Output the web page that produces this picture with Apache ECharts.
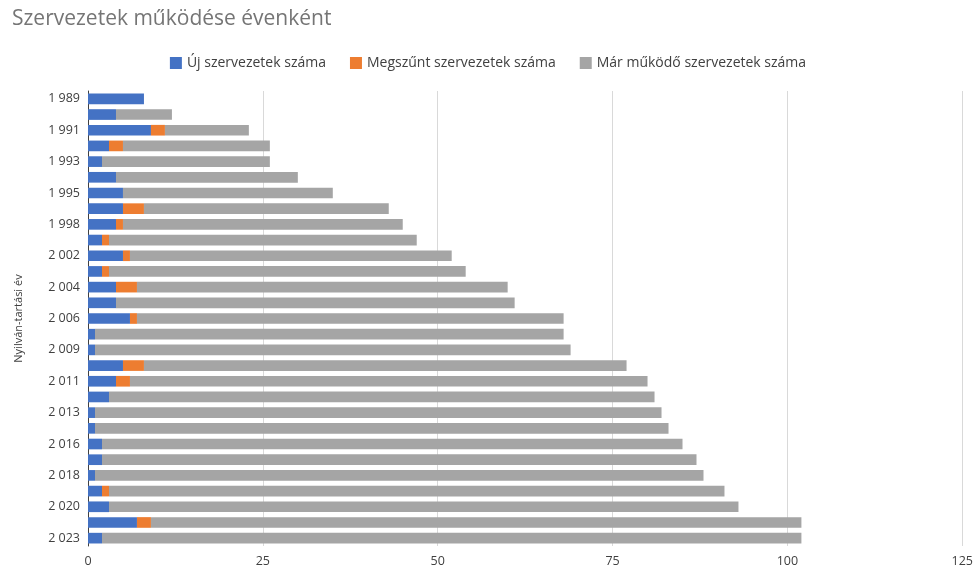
<!DOCTYPE html>
<html>
<head>
<meta charset="utf-8">
<script src="https://cdn.jsdelivr.net/npm/echarts@6/dist/echarts.min.js"></script>
<style>
  html, body { margin: 0; padding: 0; background: #fff; }
  #main { width: 976px; height: 571px; }
</style>
</head>
<body>
<div id="main"></div>
<script>
var years = ['1 989', '1 990', '1 991', '1 992', '1 993', '1 994', '1 995', '1 997', '1 998', '2 000',
    '2 002', '2 003', '2 004', '2 005', '2 006', '2 008', '2 009', '2 010', '2 011', '2 012',
    '2 013', '2 015', '2 016', '2 017', '2 018', '2 019', '2 020', '2 022', '2 023'];
var ujSzervezetek = [8, 4, 9, 3, 2, 4, 5, 5, 4, 2, 5, 2, 4, 4, 6, 1, 1, 5, 4, 3, 1, 1, 2, 2, 1, 2, 3, 7, 2];
var megszunt = [0, 0, 2, 2, 0, 0, 0, 3, 1, 1, 1, 1, 3, 0, 1, 0, 0, 3, 2, 0, 0, 0, 0, 0, 0, 1, 0, 2, 0];
var marMukodo = [0, 8, 12, 21, 24, 26, 30, 35, 40, 44, 46, 51, 53, 57, 61, 67, 68, 69, 74, 78, 81, 82, 83, 85, 87, 88, 90, 93, 100];
var xTicks = [0, 25, 50, 75, 100, 125];

var myChart = echarts.init(document.getElementById('main'));
var font = 'Open Sans';

var option = {
    animation: false,
    title: {
        text: 'Szervezetek működése évenként',
        left: 7,
        top: 4,
        textStyle: { fontFamily: font, fontSize: 21, fontWeight: 'normal', color: '#757575' }
    },
    legend: {
        top: 51,
        left: 'center',
        itemWidth: 12,
        itemHeight: 12,
        itemGap: 24,
        icon: 'rect',
        textStyle: { fontFamily: font, fontSize: 14, color: '#404040' },
        data: ['Új szervezetek száma', 'Megszűnt szervezetek száma', 'Már működő szervezetek száma']
    },
    grid: { left: 88, right: 12, top: 91, bottom: 25 },
    xAxis: {
        type: 'value',
        min: 0,
        max: 125,
        interval: 25,
        axisLine: { show: false },
        axisTick: { show: false },
        axisLabel: {
            fontFamily: font, fontSize: 12.5, color: '#404040', margin: 9,
            formatter: function (v) { return xTicks.indexOf(v) >= 0 ? String(v) : ''; }
        },
        splitLine: { lineStyle: { color: '#d9d9d9', width: 1 } }
    },
    yAxis: {
        type: 'category',
        inverse: true,
        data: years,
        name: 'Nyilván-tartási év',
        nameLocation: 'middle',
        nameGap: 64,
        nameTextStyle: { fontFamily: font, fontSize: 11, color: '#404040' },
        axisLine: { lineStyle: { color: '#404040', width: 1 } },
        axisTick: { show: false },
        axisLabel: { interval: 1, fontFamily: font, fontSize: 12.5, color: '#404040', margin: 8 }
    },
    series: [{
        name: 'Új szervezetek száma',
        type: 'bar',
        stack: 'total',
        barCategoryGap: '32%',
        itemStyle: { color: '#4472C4' },
        data: ujSzervezetek
    }, {
        name: 'Megszűnt szervezetek száma',
        type: 'bar',
        stack: 'total',
        itemStyle: { color: '#ED7D31' },
        data: megszunt
    }, {
        name: 'Már működő szervezetek száma',
        type: 'bar',
        stack: 'total',
        itemStyle: { color: '#A5A5A5' },
        data: marMukodo
    }]
};
myChart.setOption(option);
</script>
</body>
</html>
